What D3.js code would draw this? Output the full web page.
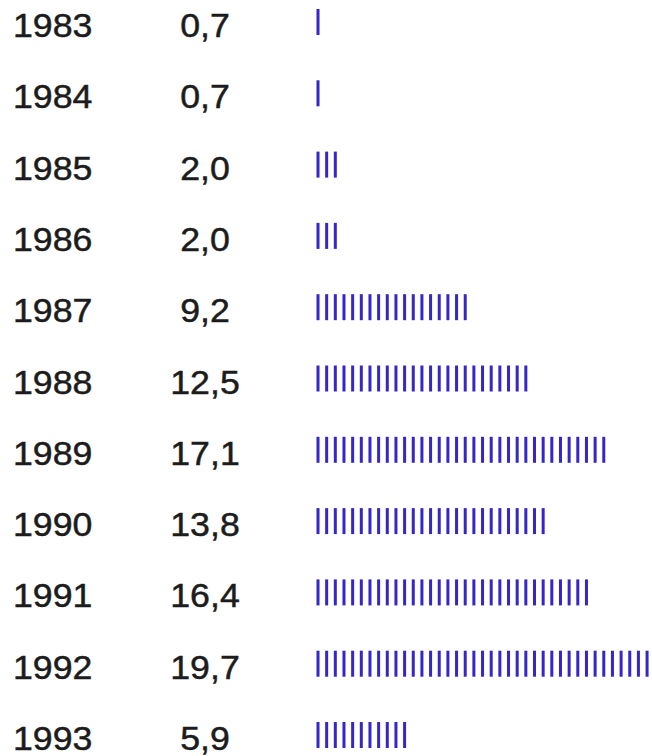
<!DOCTYPE html>
<html lang="en">
<head>
    <meta charset="UTF-8">
    <title>Yearly values</title>
    <script src="https://d3js.org/d3.v7.min.js"></script>
    <style>
        body {
            margin: 0;
            padding: 0;
            background-color: #ffffff;
        }
        svg text {
            font-family: 'Liberation Sans', Arial, sans-serif;
            font-size: 34px;
            fill: #1c1c1c;
            stroke: #1c1c1c;
            stroke-width: 0.5px;
        }
    </style>
</head>
<body>
<svg id="chart" width="652" height="756"></svg>

<script>
    // values as printed in the picture
    const years = ["1983", "1984", "1985", "1986", "1987", "1988", "1989", "1990", "1991", "1992", "1993"];
    const values = ["0,7", "0,7", "2,0", "2,0", "9,2", "12,5", "17,1", "13,8", "16,4", "19,7", "5,9"];
    // number of tick marks drawn in each row (counted from the picture)
    const tickCounts = [1, 1, 3, 3, 18, 25, 34, 27, 32, 39, 11];

    const svg = d3.select("#chart");

    const rows = years.map((y, i) => ({ year: y, value: values[i], ticks: tickCounts[i] }));

    // baselines of the first and last rows
    const y = d3.scalePoint()
        .domain(years)
        .range([37, 750]);

    // one unit = one tick mark
    const x = d3.scaleLinear()
        .domain([0, 39])
        .range([318, 318 + 39 * 8.66]);

    const row = svg.selectAll(".row")
        .data(rows)
        .enter().append("g")
        .attr("class", "row")
        .attr("transform", d => `translate(0,${y(d.year)})`);

    // text in the picture is a touch wider than plain Arial
    row.append("text")
        .attr("transform", "translate(13,0) scale(1.05,1)")
        .text(d => d.year);

    row.append("text")
        .attr("transform", "translate(205,0) scale(1.05,1)")
        .attr("text-anchor", "middle")
        .text(d => d.value);

    row.selectAll(".tick")
        .data(d => d3.range(d.ticks))
        .enter().append("rect")
        .attr("class", "tick")
        .attr("x", i => x(i) - 1.5)
        .attr("y", -28)
        .attr("width", 3)
        .attr("height", 26)
        .attr("fill", "#3526c8");
</script>
</body>
</html>
